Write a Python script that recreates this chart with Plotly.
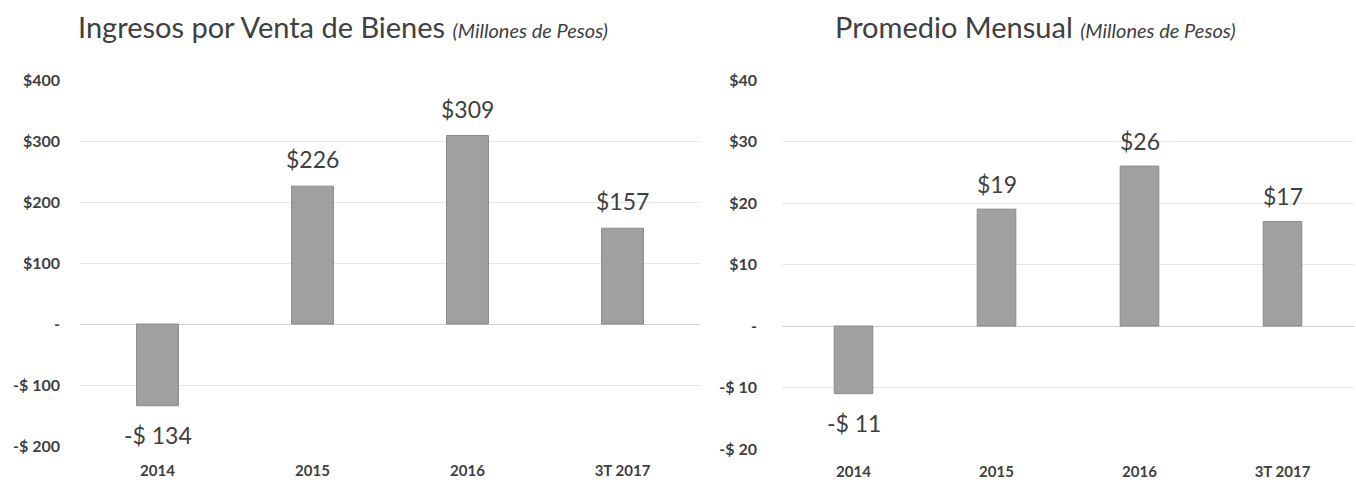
import plotly.graph_objects as go

categories = ["2014", "2015", "2016", "3T 2017"]
ingresos = [-134, 226, 309, 157]
promedio = [-11, 19, 26, 17]

left_ticks = [400, 300, 200, 100, 0, -100, -200]
left_ticktext = ["$400", "$300", "$200", "$100", "-", "-$ 100", "-$ 200"]
right_ticks = [40, 30, 20, 10, 0, -10, -20]
right_ticktext = ["$40", "$30", "$20", "$10", "-", "-$ 10", "-$ 20"]

FONT = "Lato"
TXT = "#404040"
BAR = "#a0a0a0"


def fmt(v):
    return f"${v}" if v >= 0 else f"-$ {abs(v)}"


fig = go.Figure()
fig.add_trace(go.Bar(x=categories, y=ingresos, width=0.27,
                     marker=dict(color=BAR, line=dict(color="#8a8a8a", width=1)),
                     xaxis="x", yaxis="y", showlegend=False, hoverinfo="skip"))
fig.add_trace(go.Bar(x=categories, y=promedio, width=0.27,
                     marker=dict(color=BAR, line=dict(color="#8a8a8a", width=1)),
                     xaxis="x2", yaxis="y2", showlegend=False, hoverinfo="skip"))

annotations = []
for i, v in enumerate(ingresos):
    annotations.append(dict(x=i, y=v, xref="x", yref="y", text=fmt(v), showarrow=False,
                            yanchor="middle", yshift=27 if v >= 0 else -29,
                            font=dict(family=FONT, size=23, color=TXT)))
for i, v in enumerate(promedio):
    annotations.append(dict(x=i, y=v, xref="x2", yref="y2", text=fmt(v), showarrow=False,
                            yanchor="middle", yshift=25 if v >= 0 else -29,
                            font=dict(family=FONT, size=23, color=TXT)))

annotations.append(dict(x=76 / 1356, y=1 - 27 / 483, xref="paper", yref="paper",
                        xanchor="left", yanchor="middle", showarrow=False,
                        text="Ingresos por Venta de Bienes <i><span style='font-size:20px'>(Millones de Pesos)</span></i>",
                        font=dict(family=FONT, size=29, color=TXT)))
annotations.append(dict(x=833 / 1356, y=1 - 27 / 483, xref="paper", yref="paper",
                        xanchor="left", yanchor="middle", showarrow=False,
                        text="Promedio Mensual <i><span style='font-size:20px'>(Millones de Pesos)</span></i>",
                        font=dict(family=FONT, size=29, color=TXT)))

axis_common = dict(showgrid=True, gridcolor="#e6e6e6", gridwidth=1, zeroline=True,
                   zerolinecolor="#cfcfcf", zerolinewidth=1, showline=False, ticks="",
                   automargin=False,
                   tickfont=dict(family=FONT, size=16, color=TXT, weight="bold"))

xcommon = dict(type="category", categoryorder="array", categoryarray=categories,
               autotypenumbers="strict", range=[-0.5, 3.5], automargin=False,
               showgrid=False, showline=False, zeroline=False, ticks="",
               tickfont=dict(family=FONT, size=15, color=TXT, weight="bold"))

fig.update_layout(
    width=1356, height=483,
    margin=dict(l=0, r=0, t=0, b=0),
    paper_bgcolor="white", plot_bgcolor="white",
    annotations=annotations,
    xaxis=dict(domain=[80 / 1356, 700 / 1356], anchor="y", ticklabelstandoff=14, **xcommon),
    yaxis=dict(domain=[(483 - 446) / 483, (483 - 80) / 483], anchor="x", range=[-200, 400],
               tickvals=left_ticks, ticktext=left_ticktext, ticklabelstandoff=19, **axis_common),
    xaxis2=dict(domain=[782 / 1356, 1354 / 1356], anchor="y2", ticklabelstandoff=12, **xcommon),
    yaxis2=dict(domain=[(483 - 449) / 483, (483 - 80) / 483], anchor="x2", range=[-20, 40],
                tickvals=right_ticks, ticktext=right_ticktext, ticklabelstandoff=24, **axis_common),
)

fig.write_html("out.html", config={"displayModeBar": False},
               post_script="document.body.style.margin='0';")
